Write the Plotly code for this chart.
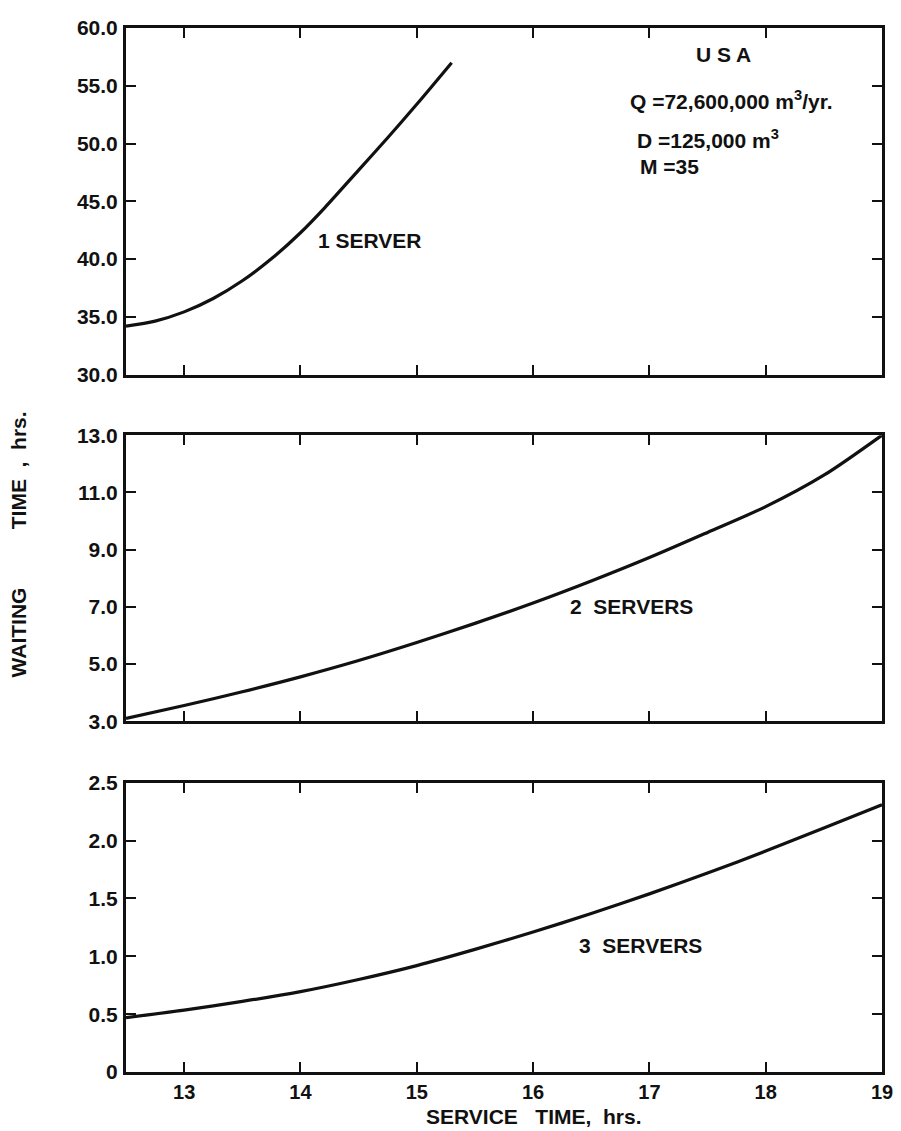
import plotly.graph_objects as go
from plotly.subplots import make_subplots

# ---- data ----
service_1 = [12.5, 12.75, 13.0, 13.25, 13.5, 13.75, 14.0, 14.21, 14.5, 14.75, 15.0, 15.3]
wait_1 = [34.2, 34.63, 35.43, 36.59, 38.12, 40.02, 42.28, 44.46, 47.7, 50.5, 53.4, 57.0]

service_2 = [12.5, 13.0, 13.5, 14.0, 14.5, 15.0, 15.5, 16.0, 16.5, 17.0, 17.5, 18.0, 18.5, 19.0]
wait_2 = [3.1, 3.55, 4.03, 4.55, 5.12, 5.75, 6.42, 7.13, 7.9, 8.72, 9.6, 10.5, 11.6, 13.0]

service_3 = [12.5, 13.0, 13.5, 14.0, 14.5, 15.0, 15.5, 16.0, 16.5, 17.0, 17.5, 18.0, 18.5, 19.0]
wait_3 = [0.47, 0.535, 0.61, 0.695, 0.8, 0.92, 1.06, 1.21, 1.37, 1.54, 1.72, 1.91, 2.11, 2.31]

x_ticks = [13, 14, 15, 16, 17, 18, 19]
x_ticktext = ["13", "14", "15", "16", "17", "18", "19"]
y1_ticks = [30, 35, 40, 45, 50, 55, 60]
y1_ticktext = ["30.0", "35.0", "40.0", "45.0", "50.0", "55.0", "60.0"]
y2_ticks = [3, 5, 7, 9, 11, 13]
y2_ticktext = ["3.0", "5.0", "7.0", "9.0", "11.0", "13.0"]
y3_ticks = [0, 0.5, 1.0, 1.5, 2.0, 2.5]
y3_ticktext = ["0", "0.5", "1.0", "1.5", "2.0", "2.5"]

FONT = "Liberation Sans"
INK = "#111111"

fig = make_subplots(rows=3, cols=1, shared_xaxes=False, vertical_spacing=0.0)

line_style = dict(color=INK, width=3.2, shape="spline", smoothing=0.8)
fig.add_trace(go.Scatter(x=service_1, y=wait_1, mode="lines", line=line_style, showlegend=False), row=1, col=1)
fig.add_trace(go.Scatter(x=service_2, y=wait_2, mode="lines", line=line_style, showlegend=False), row=2, col=1)
fig.add_trace(go.Scatter(x=service_3, y=wait_3, mode="lines", line=line_style, showlegend=False), row=3, col=1)

axis_common = dict(showline=True, linecolor=INK, linewidth=3, mirror="ticks", ticks="inside",
                   ticklen=10, tickwidth=2, tickcolor=INK, showgrid=False, zeroline=False)

domains = [(0.668, 1.0), (0.336, 0.610), (0.0, 0.277)]
yinfo = [((30, 60), y1_ticks, y1_ticktext), ((3, 13), y2_ticks, y2_ticktext), ((0, 2.5), y3_ticks, y3_ticktext)]

for i in range(3):
    xa = "xaxis" if i == 0 else f"xaxis{i+1}"
    ya = "yaxis" if i == 0 else f"yaxis{i+1}"
    fig.layout[xa].update(range=[12.5, 19], tickvals=x_ticks, ticktext=x_ticktext,
                          showticklabels=(i == 2), ticklabelstandoff=0,
                          tickfont=dict(family=FONT, size=20, color=INK, weight="bold"), **axis_common)
    rng, tv, tt = yinfo[i]
    fig.layout[ya].update(range=list(rng), tickvals=tv, ticktext=tt, domain=list(domains[i]),
                          ticklabelstandoff=1,
                          tickfont=dict(family=FONT, size=21, color=INK, weight="bold"), **axis_common)

ann_font = dict(family=FONT, size=21, color=INK, weight="bold")
title_font = dict(family=FONT, size=21, color=INK, weight="bold")
annotations = [
    dict(x=14.6, y=41.6, xref="x", yref="y", text="1 SERVER", showarrow=False, font=ann_font),
    dict(x=17.64, y=57.7, xref="x", yref="y", text="U S A", showarrow=False, font=ann_font),
    dict(x=16.82, y=53.8, xref="x", yref="y", text="Q =72,600,000 m<sup>3</sup>/yr.", showarrow=False,
         font=ann_font, xanchor="left"),
    dict(x=16.88, y=50.4, xref="x", yref="y", text="D =125,000 m<sup>3</sup>", showarrow=False,
         font=ann_font, xanchor="left"),
    dict(x=16.9, y=48.0, xref="x", yref="y", text="M =35", showarrow=False, font=ann_font, xanchor="left"),
    dict(x=16.85, y=7.0, xref="x2", yref="y2", text="2  SERVERS", showarrow=False, font=ann_font),
    dict(x=16.92, y=1.09, xref="x3", yref="y3", text="3  SERVERS", showarrow=False, font=ann_font),
    dict(x=0.54, y=-0.0426, xref="paper", yref="paper", text="SERVICE   TIME,  hrs.", showarrow=False,
         font=title_font, xanchor="center", yanchor="middle"),
    dict(x=-0.142, y=0.505, xref="paper", yref="paper", text="WAITING          TIME  ,  hrs.", showarrow=False,
         font=title_font, textangle=-90, xanchor="center", yanchor="middle"),
]
fig.update_layout(annotations=annotations)

# page body has an 8px default margin, so the figure is sized to land where the reference sits
fig.update_layout(width=893, height=1123, margin=dict(l=118, r=13, t=8, b=59),
                  plot_bgcolor="white", paper_bgcolor="white",
                  font=dict(family=FONT, size=21, color=INK))

fig.write_html("out.html")
